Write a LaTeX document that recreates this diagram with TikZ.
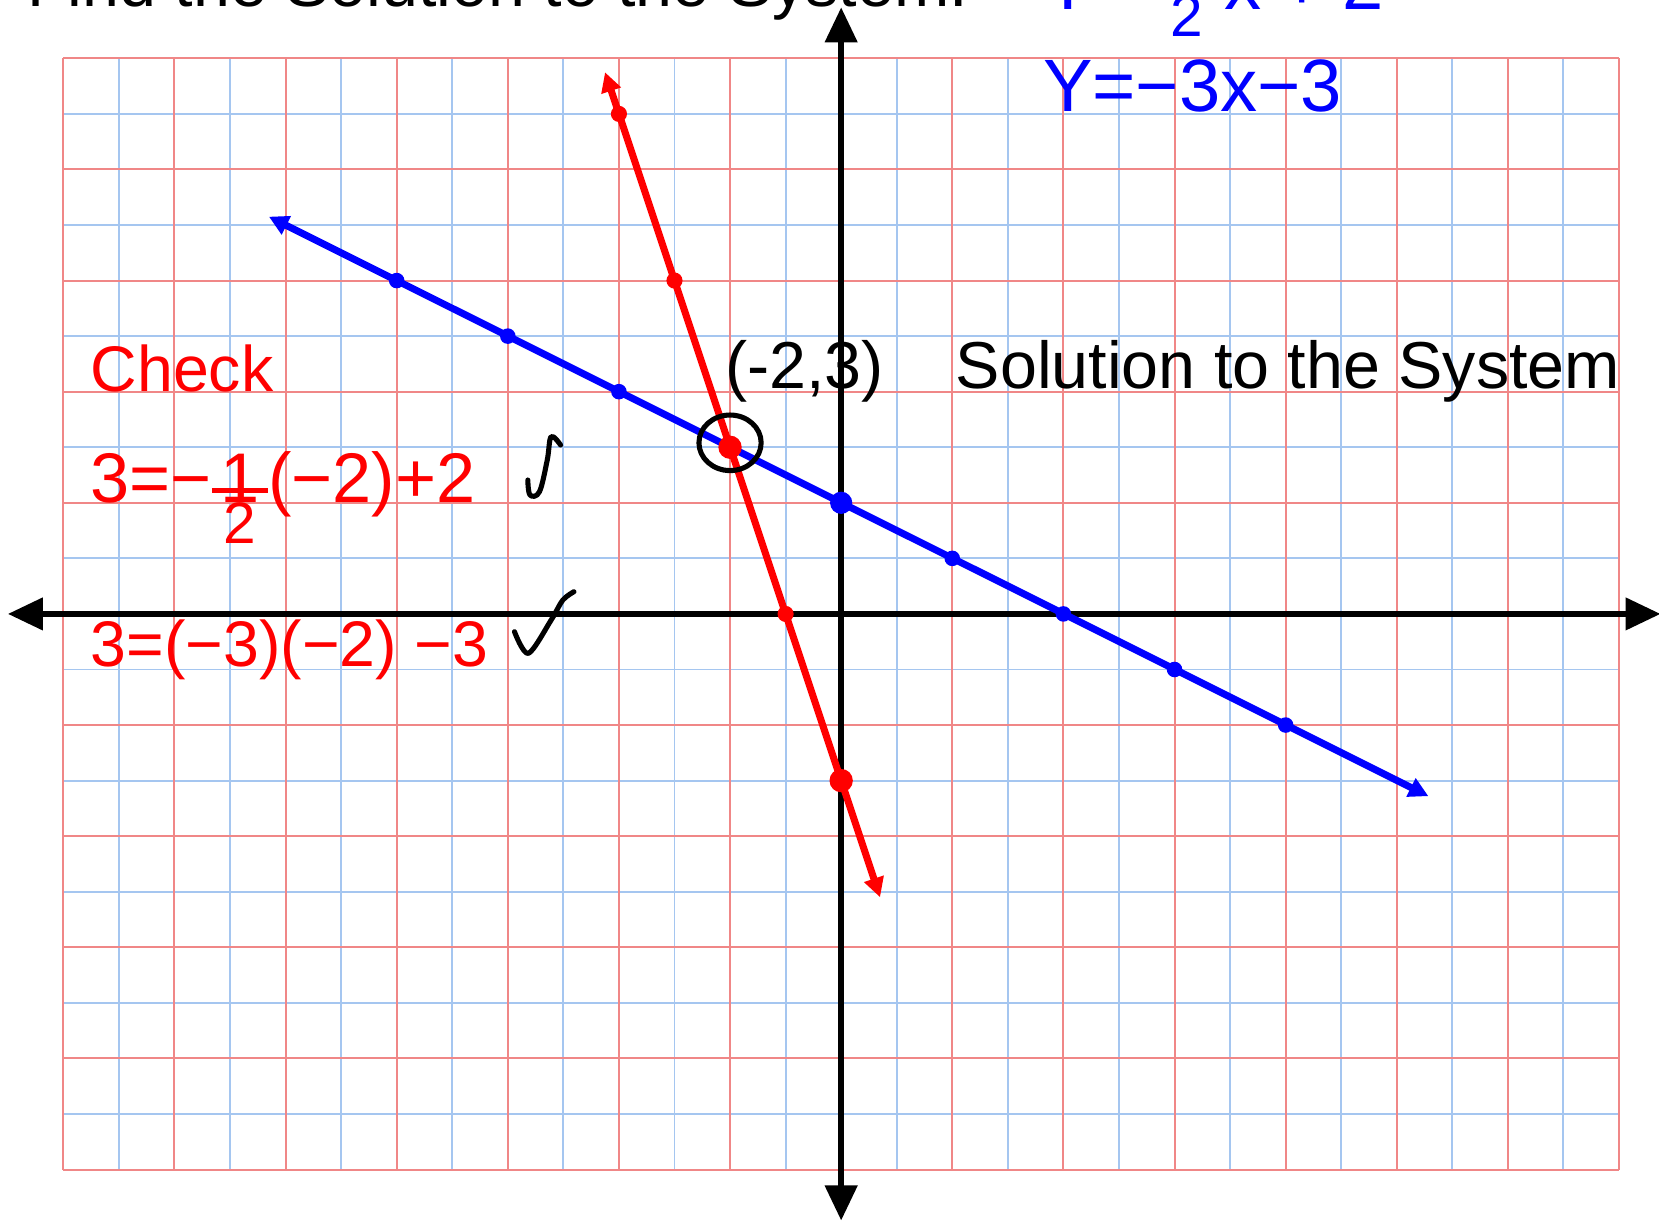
\documentclass[tikz,border=0pt]{standalone}
\usepackage{fontspec}
\setmainfont{Liberation Sans}
\usetikzlibrary{arrows.meta}
\definecolor{gridred}{RGB}{240,135,135}
\definecolor{gridblue}{RGB}{165,198,240}
\definecolor{penred}{RGB}{255,0,0}
\definecolor{penblue}{RGB}{0,0,255}
% fraction with numerator on the line and a small denominator below (red check)
\newcommand{\redfrac}{\makebox[0.8em]{1}\llap{\makebox[0.8em]{\rule[2.4pt]{0.8em}{1.4pt}}}\llap{\makebox[0.8em]{\raisebox{-10.5pt}{\fontsize{15}{17}\selectfont 2}}}}
% centred fraction for the cut-off blue equation
\newcommand{\bluefrac}{\makebox[0.7em]{\raisebox{8pt}{\fontsize{14}{16}\selectfont 1}}\llap{\makebox[0.7em]{\rule[5pt]{0.7em}{1.3pt}}}\llap{\makebox[0.7em]{\raisebox{-7pt}{\fontsize{15}{17}\selectfont 2}}}}
\begin{document}
\begin{tikzpicture}[x=0.5cm,y=0.5cm,
  minorline/.style={draw=gridblue,line width=0.5pt},
  majorline/.style={draw=gridred,line width=0.5pt},
  axisline/.style={line width=1.7pt,{Triangle[length=9pt,width=8pt]}-{Triangle[length=9pt,width=8pt]}},
  blueline/.style={draw=penblue,line width=1.8pt,{Triangle[length=5pt,width=5pt]}-{Triangle[length=5pt,width=5pt]}},
  redline/.style={draw=penred,line width=1.8pt,{Triangle[length=5pt,width=5pt]}-{Triangle[length=5pt,width=5pt]}},
  bdot/.style={circle,fill=penblue,inner sep=0pt,minimum size=1.4mm},
  bigbdot/.style={circle,fill=penblue,inner sep=0pt,minimum size=2mm},
  rdot/.style={circle,fill=penred,inner sep=0pt,minimum size=1.45mm},
  bigrdot/.style={circle,fill=penred,inner sep=0pt,minimum size=2.1mm},
  hand/.style={inner sep=0pt,anchor=base west},
  checkmark/.style={draw=black,line width=1.3pt,line cap=round,line join=round},
]
\useasboundingbox (-15.14,-10.95) rectangle (14.72,11.05);
\fill[white] (-15.14,-10.95) rectangle (14.72,11.05);
% grid
\foreach \x in {-13,-11,...,13} \draw[minorline] (\x,-10) -- (\x,10);
\foreach \y in {-9,-7,...,9} \draw[minorline] (-14,\y) -- (14,\y);
\foreach \x in {-14,-12,...,14} \draw[majorline] (\x,-10) -- (\x,10);
\foreach \y in {-10,-8,...,10} \draw[majorline] (-14,\y) -- (14,\y);
% axes
\coordinate (xl) at (-15.0,0);
\coordinate (xr) at (14.75,0);
\coordinate (yb) at (0,-10.92);
\coordinate (yt) at (0,10.92);
\draw[axisline] (xl) -- (xr);
\draw[axisline] (yb) -- (yt);
% blue line y = -x/2 + 2
\coordinate (bs) at (-10.3,7.15);
\coordinate (be) at (10.57,-3.28);
\draw[blueline] (bs) -- (be);
% red line y = -3x - 3
\coordinate (rs) at (-4.25,9.75);
\coordinate (re) at (0.7,-5.1);
\draw[redline] (rs) -- (re);
% blue dots
\node[bdot] (b1) at (-8,6) {};
\node[bdot] (b2) at (-6,5) {};
\node[bdot] (b3) at (-4,4) {};
\node[bigbdot] (b4) at (0,2) {};
\node[bdot] (b5) at (2,1) {};
\node[bdot] (b6) at (4,0) {};
\node[bdot] (b7) at (6,-1) {};
\node[bdot] (b8) at (8,-2) {};
% red dots
\node[rdot] (r1) at (-4,9) {};
\node[rdot] (r2) at (-3,6) {};
\node[bigrdot] (r3) at (-2,3) {};
\node[rdot] (r4) at (-1,0) {};
\node[bigrdot] (r5) at (0,-3) {};
% circle round the solution
\draw[line width=1.3pt] (-2,3.08) ellipse [x radius=0.56, y radius=0.5];
% texts (the top line is cut by the page edge, as in the reference)
\node[hand,anchor=base east,font=\fontsize{17}{20}\selectfont] (title) at (2.3,10.93) {Find the Solution to the System:};
\node[hand,text=penblue,font=\fontsize{19}{22}\selectfont] (eqa) at (3.62,10.88) {Y=-\bluefrac\,x\hspace{0.25em}+\hspace{0.25em}2};
\node[hand,text=penblue,font=\fontsize{19}{22}\selectfont] (eqb) at (3.62,9.05) {Y=−3x−3};
\node[hand,font=\fontsize{17}{20}\selectfont] (pt) at (-2.1,4.06) {(-2,3)};
\node[hand,font=\fontsize{17}{20}\selectfont] (sol) at (2.05,4.06) {Solution to the System};
\node[hand,text=penred,font=\fontsize{16.5}{20}\selectfont] (chk) at (-13.52,4.0) {Check};
\node[hand,text=penred,font=\fontsize{18}{21}\selectfont] (chka) at (-13.52,2.0) {3=−\redfrac(−2)+2};
\node[hand,text=penred,font=\fontsize{16.5}{20}\selectfont] (chkb) at (-13.52,-0.95) {3=(−3)(−2) −3};
% check marks
\draw[checkmark] plot[smooth,tension=0.6] coordinates {(-5.64,2.41) (-5.60,2.14) (-5.43,2.20) (-5.29,2.77) (-5.22,3.19) (-5.05,3.04)};
\draw[checkmark] plot[smooth,tension=0.5] coordinates {(-5.88,-0.32) (-5.63,-0.71) (-5.22,-0.11) (-5.01,0.25) (-4.81,0.40)};
\end{tikzpicture}
\end{document}
